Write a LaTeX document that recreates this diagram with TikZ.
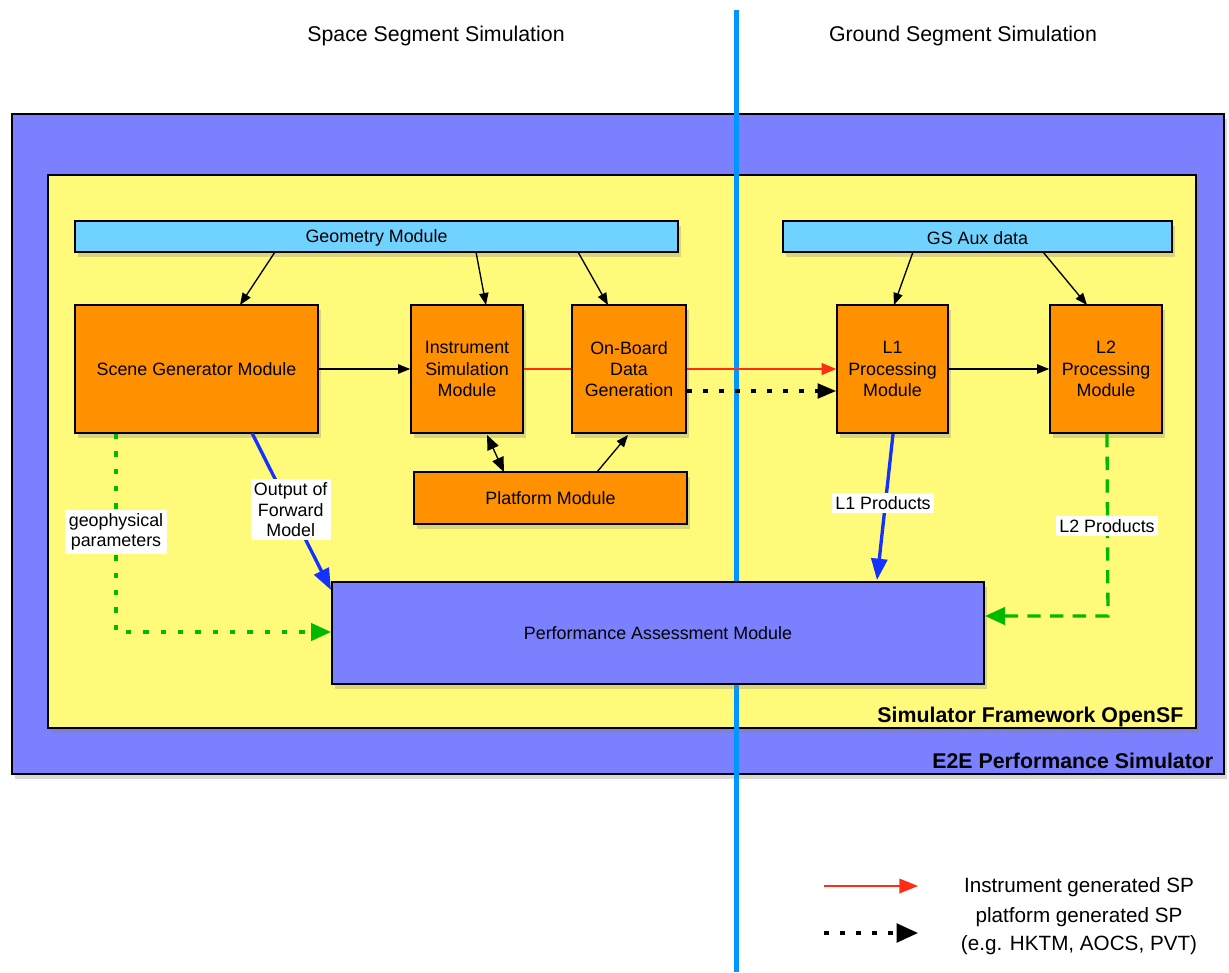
\documentclass[tikz,border=0pt]{standalone}
\usepackage{fontspec}
\setmainfont{Liberation Sans}
\usetikzlibrary{arrows.meta,shadows,fit,positioning}
\definecolor{outerblue}{RGB}{123,128,255}
\definecolor{ylw}{RGB}{255,250,122}
\definecolor{orng}{RGB}{255,145,0}
\definecolor{lblue}{RGB}{112,210,255}
\definecolor{vline}{RGB}{0,150,255}
\definecolor{redarr}{RGB}{255,45,20}
\definecolor{grn}{RGB}{0,185,0}
\definecolor{bluearr}{RGB}{20,50,255}
\tikzset{
  shad/.style={drop shadow={opacity=0.3,shadow xshift=2.5pt,shadow yshift=-4pt}},
  framebox/.style={draw=black,line width=1.2pt,inner sep=0pt,shad},
  modbox/.style={draw=black,line width=1.2pt,inner sep=0pt,align=center,shad},
  orangebox/.style={modbox,fill=orng},
  cyanbox/.style={modbox,fill=lblue},
  perfbox/.style={modbox,fill=outerblue},
  mtext/.style={align=center,font=\fontsize{13.4}{16}\selectfont},
  arr/.style={line width=1pt,-{Triangle[length=9pt,width=7pt]}},
  lbl/.style={fill=white,inner sep=2.5pt,align=center,font=\fontsize{13.4}{15.5}\selectfont},
  title/.style={font=\fontsize{16}{19}\selectfont},
  btitle/.style={font=\bfseries\fontsize{16}{19}\selectfont,anchor=base east},
}
\begin{document}
\begin{tikzpicture}[x=0.75pt,y=-0.75pt]
\useasboundingbox[fill=white] (0,0) rectangle (1229,972);
% frames
\node[framebox,fill=outerblue,fit={(12,114)(1224,774)}] (e2e) {};
\node[framebox,fill=ylw,fit={(48,175)(1196,728)}] (osf) {};
\node[btitle] (osft) at (1188,722) {Simulator Framework OpenSF};
\node[btitle] (e2et) at (1218,768) {E2E Performance Simulator};
% divider
\coordinate (vtop) at (736.5,10);
\coordinate (vbot) at (736.5,972);
\draw[vline,line width=3.5pt] (vtop) -- (vbot);
\node[title] (sst) at (436,36) {Space Segment Simulation};
\node[title] (gst) at (963,36) {Ground Segment Simulation};
% modules
\node[cyanbox,fit={(75,221)(678,252)}] (geo) {};
\node[mtext] (geot) at ([yshift=-1pt]geo.center) {Geometry Module};
\node[cyanbox,fit={(783,221)(1172,252)}] (gsa) {};
\node[mtext] (gsat) at ([yshift=-1pt]gsa.center) {GS Aux data};
\node[orangebox,fit={(75,305)(318,433)}] (scene) {};
\node[mtext] (scenet) at (scene.center) {Scene Generator Module};
\node[orangebox,fit={(411,305)(523,433)}] (inst) {};
\node[mtext] (instt) at (inst.center) {Instrument\\Simulation\\Module};
\node[orangebox,fit={(572,305)(686,433)}] (obd) {};
\node[mtext] (obdt) at (obd.center) {On-Board\\Data\\Generation};
\node[orangebox,fit={(414,472)(687,524)}] (plat) {};
\node[mtext] (platt) at (plat.center) {Platform Module};
\node[orangebox,fit={(837,305)(948,433)}] (l1) {};
\node[mtext] (l1t) at (l1.center) {L1\\Processing\\Module};
\node[orangebox,fit={(1050,305)(1162,433)}] (l2) {};
\node[mtext] (l2t) at (l2.center) {L2\\Processing\\Module};
\node[perfbox,fit={(332,582)(984,684)}] (perf) {};
\node[mtext] (perft) at (perf.center) {Performance Assessment Module};
% geometry arrows
\coordinate (g1) at (275,252); \coordinate (g1e) at (240,305);
\coordinate (g2) at (476,252); \coordinate (g2e) at (486,305);
\coordinate (g3) at (578,252); \coordinate (g3e) at (608,305);
\coordinate (a1) at (913,252); \coordinate (a1e) at (894,305);
\coordinate (a2) at (1043,252); \coordinate (a2e) at (1087,305);
\draw[arr] (g1) -- (g1e);
\draw[arr] (g2) -- (g2e);
\draw[arr] (g3) -- (g3e);
\draw[arr] (a1) -- (a1e);
\draw[arr] (a2) -- (a2e);
% horizontal flows
\draw[arr] (scene.east |- 0,369) -- (inst.west |- 0,369);
\draw[redarr,line width=1pt] (inst.east |- 0,369) -- (obd.west |- 0,369);
\draw[redarr,line width=1pt,-{Triangle[length=11pt,width=9pt]}] (obd.east |- 0,369) -- (l1.west |- 0,369);
\draw[line width=2.5pt,dash pattern=on 4pt off 8pt,-{Triangle[length=14pt,width=11pt]}] (obd.east |- 0,391) -- (l1.west |- 0,391);
\draw[arr] (l1.east |- 0,369) -- (l2.west |- 0,369);
% platform
\coordinate (p1) at (504,472); \coordinate (p1e) at (487,435);
\coordinate (p2) at (597,472); \coordinate (p2e) at (628,435);
\draw[line width=1pt,{Triangle[length=11pt,width=9pt]}-{Triangle[length=11pt,width=9pt]}] (p1) -- (p1e);
\draw[arr] (p2) -- (p2e);
% products
\coordinate (s1) at (252,433); \coordinate (s1e) at (331,590);
\draw[bluearr,line width=2.5pt,-{Triangle[length=16pt,width=12pt]}] (s1) -- (s1e) node[pos=0.49,lbl,text=black] (ofm) {Output of\\Forward\\Model};
\coordinate (s2) at (116,434); \coordinate (s2c) at (116,632); \coordinate (s2e) at (331,632);
\draw[grn,line width=2.5pt,dash pattern=on 4pt off 9pt,-{Triangle[length=15pt,width=13pt]}] (s2) -- (s2c) -- (s2e);
\node[lbl] (geoph) at (116,532) {geophysical\\parameters};
\coordinate (l1s) at (893,434); \coordinate (l1e) at (877,580);
\draw[bluearr,line width=2.5pt,-{Triangle[length=16pt,width=12pt]}] (l1s) -- (l1e);
\node[lbl] (l1p) at (883,503) {L1 Products};
\coordinate (l2s) at (1107,434); \coordinate (l2c) at (1108,616); \coordinate (l2e) at (985,616);
\draw[grn,line width=2.5pt,dash pattern=on 10pt off 7pt,-{Triangle[length=15pt,width=13pt]}] (l2s) -- (l2c) -- (l2e);
\node[lbl] (l2p) at (1107,526) {L2 Products};
% legend
\coordinate (lg1) at (824,886); \coordinate (lg1e) at (918,886);
\coordinate (lg2) at (824,933); \coordinate (lg2e) at (918,933);
\draw[redarr,line width=1pt,-{Triangle[length=14pt,width=11pt]}] (lg1) -- (lg1e);
\draw[line width=2.5pt,dash pattern=on 4pt off 8pt,-{Triangle[length=16pt,width=14pt]}] (lg2) -- (lg2e);
\node[font=\fontsize{15.5}{18}\selectfont] (lgt1) at (1079,887) {Instrument generated SP};
\node[font=\fontsize{15.5}{21}\selectfont,align=center] (lgt2) at (1079,931) {platform generated SP\\(e.g. HKTM, AOCS, PVT)};
\end{tikzpicture}
\end{document}
